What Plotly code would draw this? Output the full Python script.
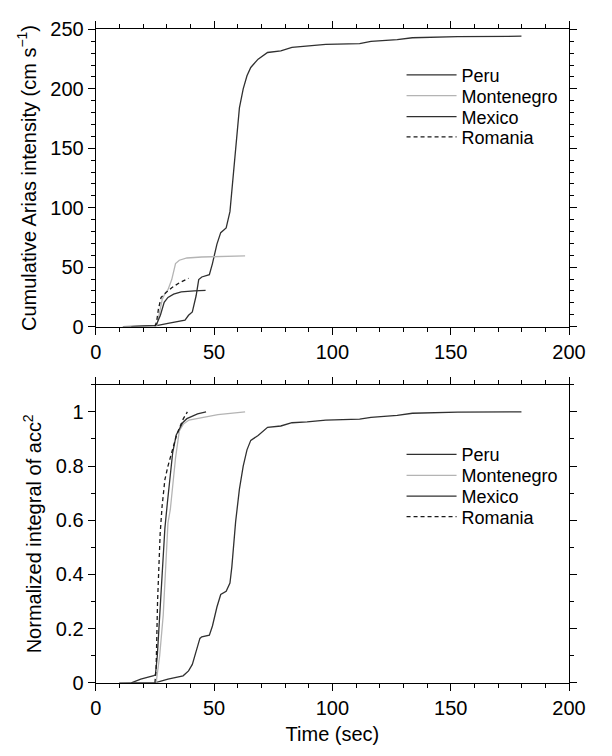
import plotly.graph_objects as go

# ---------------- data ----------------
# Top panel: cumulative Arias intensity (cm s^-1)
peru_t = [11.4, 25.7, 30.5, 35.3, 37.7, 39.2, 40.8, 42.4, 43.5, 44.8, 48.0, 49.3, 51.2, 52.8,
          55.1, 56.7, 57.5, 59.1, 60.7, 62.3, 63.9, 65.5, 68.6, 72.6, 78.2, 82.9, 89.3, 97.2,
          111.5, 116.3, 127.4, 133.8, 152.9, 179.9]
peru_ai = [0, 0.8, 2.7, 4.9, 5.4, 9.5, 12.3, 25.9, 39.5, 41.7, 43.6, 53, 69.4, 79,
           83, 96.7, 113, 151, 184, 200, 211, 218, 225, 230.6, 232, 235, 236, 237.4,
           238, 240, 241.5, 243, 244, 244.3]

monte_t = [25.7, 27.0, 28.1, 29.3, 30.5, 32.1, 33.0, 33.7, 35.3, 38.5, 44.8, 57.5, 63.1]
monte_ai = [0, 12, 23, 28, 31, 39.5, 47, 53, 55.8, 57.7, 58.5, 59, 59.4]

mexico_t = [15.0, 25.0, 25.7, 27.3, 28.9, 30.5, 32.9, 36.1, 41.6, 46.4]
mexico_ai = [0, 0.8, 2.0, 9.5, 20.4, 24.5, 27.2, 29.1, 30.0, 30.5]

romania_t = [25.0, 25.7, 26.5, 27.6, 29.7, 32.1, 35.3, 38.5, 39.2]
romania_ai = [0, 4, 15, 24.5, 28.6, 32.7, 36.8, 40.0, 40.6]

# Bottom panel: normalized integral of acc^2
peru_tn = [9.9, 25.7, 30.5, 35.3, 36.9, 39.2, 40.8, 42.4, 44.0, 44.8, 48.0, 49.3, 51.2, 52.8,
           55.1, 56.7, 57.5, 59.1, 60.7, 62.3, 63.9, 65.5, 68.6, 72.6, 78.2, 82.9, 89.3, 97.2,
           111.5, 116.3, 127.4, 133.8, 152.9, 179.9]
peru_n = [0, 0.002, 0.014, 0.024, 0.026, 0.044, 0.068, 0.116, 0.164, 0.17, 0.176, 0.21, 0.28, 0.326,
          0.338, 0.368, 0.428, 0.595, 0.715, 0.8, 0.86, 0.895, 0.913, 0.943, 0.948, 0.96, 0.963, 0.97,
          0.973, 0.98, 0.987, 0.995, 0.999, 1.0]

monte_tn = [25.5, 27.0, 28.5, 29.5, 30.5, 31.5, 32.6, 33.7, 35.3, 37.0, 39.4, 44.8, 51.6, 63.1]
monte_n = [0, 0.1, 0.25, 0.4, 0.59, 0.64, 0.74, 0.83, 0.93, 0.955, 0.97, 0.98, 0.99, 1.0]

mexico_tn = [15.0, 19.0, 24.5, 25.2, 26.0, 27.0, 28.0, 29.2, 30.2, 31.2, 32.5, 34.0, 35.5, 36.7,
             38.5, 40.7, 43.0, 46.6]
mexico_n = [0, 0.014, 0.027, 0.03, 0.1, 0.25, 0.4, 0.57, 0.66, 0.75, 0.85, 0.915, 0.94, 0.96,
            0.975, 0.985, 0.993, 1.0]

romania_tn = [25.0, 25.5, 26.1, 26.5, 27.2, 28.0, 29.2, 30.5, 32.6, 34.0, 35.3, 37.0, 38.7]
romania_n = [0, 0.055, 0.3, 0.4, 0.55, 0.65, 0.75, 0.8, 0.87, 0.91, 0.94, 0.975, 1.0]

names = ["Peru", "Montenegro", "Mexico", "Romania"]
x_ticks = [0, 50, 100, 150, 200]
top_ticks = [0, 50, 100, 150, 200, 250]
bot_ticks = [0, 0.2, 0.4, 0.6, 0.8, 1]
bot_ticklabels = ["0", "0.2", "0.4", "0.6", "0.8", "1"]

# ---------------- styling ----------------
FONT = "Liberation Sans, Arial, Helvetica, sans-serif"
colors = {"Peru": "#303030", "Montenegro": "#b4b4b4", "Mexico": "#303030", "Romania": "#1a1a1a"}
dashes = {"Peru": "solid", "Montenegro": "solid", "Mexico": "solid", "Romania": "4px,3px"}

top_data = {"Peru": (peru_t, peru_ai), "Montenegro": (monte_t, monte_ai),
            "Mexico": (mexico_t, mexico_ai), "Romania": (romania_t, romania_ai)}
bot_data = {"Peru": (peru_tn, peru_n), "Montenegro": (monte_tn, monte_n),
            "Mexico": (mexico_tn, mexico_n), "Romania": (romania_tn, romania_n)}

W, H = 612, 756
xl, xr = 93.3, 585.0
top_t, top_b = 19.0, 325.0
bot_t, bot_b = 385.0, 692.0

def px(v):
    return v / W

def py(v):
    return (H - v) / H

fig = go.Figure()
legend_layout = {}
row_top = [66, 87.5, 109, 130]
row_bot = [457, 478.5, 500, 521]
k = 1
for panel, data, rows, xa, ya in (("top", top_data, row_top, "x", "y"),
                                  ("bot", bot_data, row_bot, "x2", "y2")):
    for i, nm in enumerate(names):
        x, y = data[nm]
        lname = "legend" if k == 1 else f"legend{k}"
        fig.add_trace(go.Scatter(x=x, y=y, mode="lines", name=nm, legend=lname,
                                 xaxis=xa, yaxis=ya,
                                 line=dict(color=colors[nm], width=1.3, dash=dashes[nm])))
        legend_layout[lname] = dict(x=px(411), y=py(rows[i]), xanchor="left", yanchor="middle",
                                    bgcolor="rgba(0,0,0,0)", borderwidth=0, itemwidth=50,
                                    font=dict(family=FONT, size=18, color="black"))
        k += 1

axis_common = dict(showgrid=False, zeroline=False, showline=True, linecolor="black",
                   linewidth=1.3, mirror="allticks", ticks="outside", ticklen=7,
                   tickwidth=1.2, tickcolor="black",
                   tickfont=dict(family=FONT, size=20, color="black"))
minor_x = dict(ticks="outside", dtick=10, ticklen=4, tickcolor="black", tickwidth=1)

fig.update_layout(
    width=W, height=H,
    margin=dict(l=0, r=0, t=0, b=0),
    paper_bgcolor="white", plot_bgcolor="white",
    font=dict(family=FONT, color="black"),
    xaxis=dict(domain=[px(xl), px(xr)], anchor="y", range=[0, 200], tickvals=x_ticks,
               minor=minor_x, **axis_common),
    yaxis=dict(domain=[py(top_b), py(top_t)], anchor="x", range=[0, 250], tickvals=top_ticks,
               minor=dict(ticks="outside", dtick=10, ticklen=4, tickcolor="black", tickwidth=1),
               title=dict(text="Cumulative Arias intensity (cm s<sup>\u22121</sup>)",
                          font=dict(family=FONT, size=20, color="black"), standoff=8),
               **axis_common),
    xaxis2=dict(domain=[px(xl), px(xr)], anchor="y2", range=[0, 200], tickvals=x_ticks,
                minor=minor_x,
                title=dict(text="Time (sec)", font=dict(family=FONT, size=20, color="black"),
                           standoff=8),
                **axis_common),
    yaxis2=dict(domain=[py(bot_b), py(bot_t)], anchor="x2", range=[0, 1.1],
                tickvals=bot_ticks, ticktext=bot_ticklabels,
                minor=dict(ticks="outside", dtick=0.1, ticklen=4, tickcolor="black", tickwidth=1),
                title=dict(text="Normalized integral of acc<sup>2</sup>",
                           font=dict(family=FONT, size=20, color="black"), standoff=8),
                **axis_common),
    showlegend=True,
    **legend_layout,
)

fig.write_html("out.html")
